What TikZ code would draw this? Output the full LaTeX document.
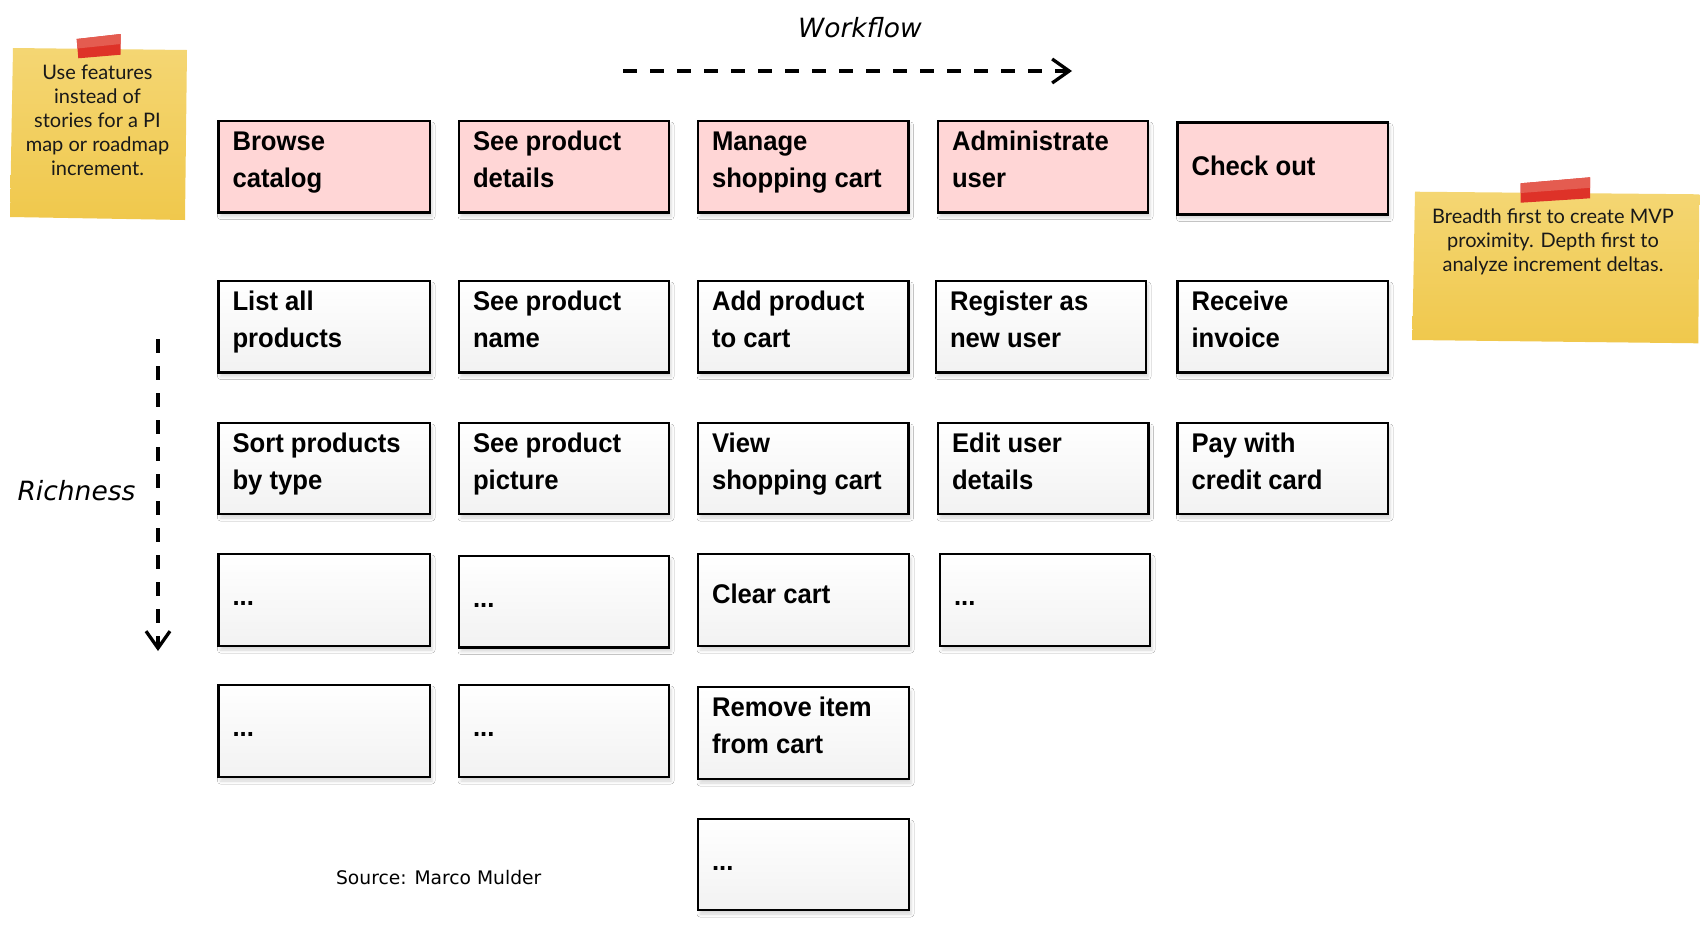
\documentclass[tikz,border=0pt]{standalone}
\usepackage{fontspec}
\setmainfont{Liberation Sans}
\newfontfamily\boxfont{Liberation Sans}[FakeStretch=0.95]
\newfontfamily\djv{DejaVu Sans}
\newfontfamily\notefont{Lato}
\usetikzlibrary{arrows.meta,shadows.blur}
\definecolor{pinkfill}{RGB}{255,214,214}
\definecolor{boxbot}{RGB}{242,242,242}
\definecolor{notelight}{RGB}{244,214,115}
\definecolor{notedark}{RGB}{240,200,76}
\definecolor{tapedark}{RGB}{222,50,40}
\definecolor{tapelight}{RGB}{228,92,80}
\definecolor{notetextcol}{RGB}{25,25,25}
\tikzset{
  storybase/.style={rectangle, draw=black, line width=2.5pt, inner sep=0pt, outer sep=0pt,
    blur shadow={shadow xshift=2pt, shadow yshift=-4pt, shadow blur radius=3pt, shadow opacity=16}},
  pinkbox/.style={storybase, fill=pinkfill},
  whitebox/.style={storybase, top color=white, bottom color=boxbot},
  storytext/.style={anchor=north west, inner sep=0pt, outer sep=0pt, align=left,
    font=\boxfont\bfseries\fontsize{27}{37}\selectfont},
  notetext/.style={anchor=north, inner sep=0pt, outer sep=0pt, align=center,
    font=\notefont\fontsize{20}{24}\selectfont, text=notetextcol},
  flowarrow/.style={line width=3.3pt, dash pattern=on 14pt off 13pt,
    -{Straight Barb[length=17pt,width=24pt]}},
  axislabel/.style={font=\djv\itshape\fontsize{26.5}{30}\selectfont, inner sep=0pt, anchor=base},
  sourcelabel/.style={font=\djv\fontsize{18.7}{22}\selectfont, inner sep=0pt, anchor=base},
}
\newcommand\storybox[8]{%
  \pgfmathsetmacro\sbcx{(#3+#5)/2}%
  \pgfmathsetmacro\sbcy{(#4+#6)/2}%
  \pgfmathsetmacro\sbw{#5-#3}%
  \pgfmathsetmacro\sbh{#6-#4}%
  \node[#2, minimum width=\sbw pt, minimum height=\sbh pt] (#1) at (\sbcx,\sbcy) {};
  \node[storytext] (#1-t) at ([xshift=14pt,yshift=#7pt]#1.north west) {\strut #8};
}
\begin{document}
\begin{tikzpicture}[x=1pt,y=-1pt]
\useasboundingbox (0,0) rectangle (1700,927);
\fill[white] (0,0) rectangle (1700,927);

% sticky note 1
\shade[top color=notelight, bottom color=notedark] (13,48) -- (187,50) -- (185,220) -- (10,217) -- cycle;
\fill[tapedark] (76.7,39) -- (120.7,34) -- (120.7,54.7) -- (78.3,58.3) -- cycle;
\fill[tapelight] (76.7,39) -- (120.7,34) -- (120.7,44) -- (77.5,48.5) -- cycle;
\node[notetext] (note1) at (97.5,62.5) {\strut Use features\\instead of\\stories for a PI\\map or roadmap\\increment.};

% sticky note 2
\shade[top color=notelight, bottom color=notedark] (1415,191.7) -- (1699.3,194.3) -- (1698.3,343.3) -- (1412.3,340) -- cycle;
\fill[tapedark] (1520.7,183.3) -- (1590,177.3) -- (1590,198.3) -- (1520.7,202.7) -- cycle;
\fill[tapelight] (1520.7,183.3) -- (1590,177.3) -- (1590,187.8) -- (1520.7,193) -- cycle;
\node[notetext] (note2) at (1553,206.5) {\strut Breadth first to create MVP\\proximity. Depth first to\\analyze increment deltas.};

% axes
\node[axislabel] (workflow) at (860,37.3) {Workflow};
\coordinate (wf-s) at (623,71);
\coordinate (wf-e) at (1072,71);
\draw[flowarrow] (wf-s) -- (wf-e);

\node[axislabel] (richness) at (76.5,500) {Richness};
\coordinate (ri-s) at (158,339);
\coordinate (ri-e) at (158,651);
\draw[flowarrow] (ri-s) -- (ri-e);

\node[sourcelabel] (source) at (438.7,884) {Source: Marco Mulder};

% row 1 (features)
\storybox{f1}{pinkbox}{218.5}{121}{430}{212.5}{-3.1}{Browse\\catalog}
\storybox{f2}{pinkbox}{459}{121}{669}{212.5}{-3.1}{See product\\details}
\storybox{f3}{pinkbox}{698}{121}{908.5}{212.5}{-3.1}{Manage\\shopping cart}
\storybox{f4}{pinkbox}{938}{121}{1148}{212.5}{-3.1}{Administrate\\user}
\storybox{f5}{pinkbox}{1177.5}{122.5}{1388}{214.5}{-27}{Check out}

% row 2
\storybox{s21}{whitebox}{218.5}{281}{430}{372.5}{-3.1}{List all\\products}
\storybox{s22}{whitebox}{459}{281}{669}{372.5}{-3.1}{See product\\name}
\storybox{s23}{whitebox}{698}{281}{908.5}{372.5}{-3.1}{Add product\\to cart}
\storybox{s24}{whitebox}{936}{281}{1146}{372.5}{-3.1}{Register as\\new user}
\storybox{s25}{whitebox}{1177.5}{281}{1388}{372.5}{-3.1}{Receive\\invoice}

% row 3
\storybox{s31}{whitebox}{218.5}{423}{430}{514}{-3.1}{Sort products\\by type}
\storybox{s32}{whitebox}{459}{423}{669}{514}{-3.1}{See product\\picture}
\storybox{s33}{whitebox}{698}{423}{908.5}{514}{-3.1}{View\\shopping cart}
\storybox{s34}{whitebox}{938}{423}{1148.5}{514}{-3.1}{Edit user\\details}
\storybox{s35}{whitebox}{1177.5}{423}{1388}{514}{-3.1}{Pay with\\credit card}

% row 4
\storybox{s41}{whitebox}{218.5}{554}{430}{646}{-25.1}{...}
\storybox{s42}{whitebox}{459}{556}{669}{647.5}{-25.1}{...}
\storybox{s43}{whitebox}{698}{554}{909}{646}{-24}{Clear cart}
\storybox{s44}{whitebox}{940}{554}{1150}{646}{-25.1}{...}

% row 5
\storybox{s51}{whitebox}{218.5}{685}{430}{777}{-25.1}{...}
\storybox{s52}{whitebox}{459}{685}{669}{777}{-25.1}{...}
\storybox{s53}{whitebox}{698}{687}{909}{779}{-3.1}{Remove item\\from cart}

% row 6
\storybox{s63}{whitebox}{698}{819}{909}{910}{-25.1}{...}
\end{tikzpicture}
\end{document}
